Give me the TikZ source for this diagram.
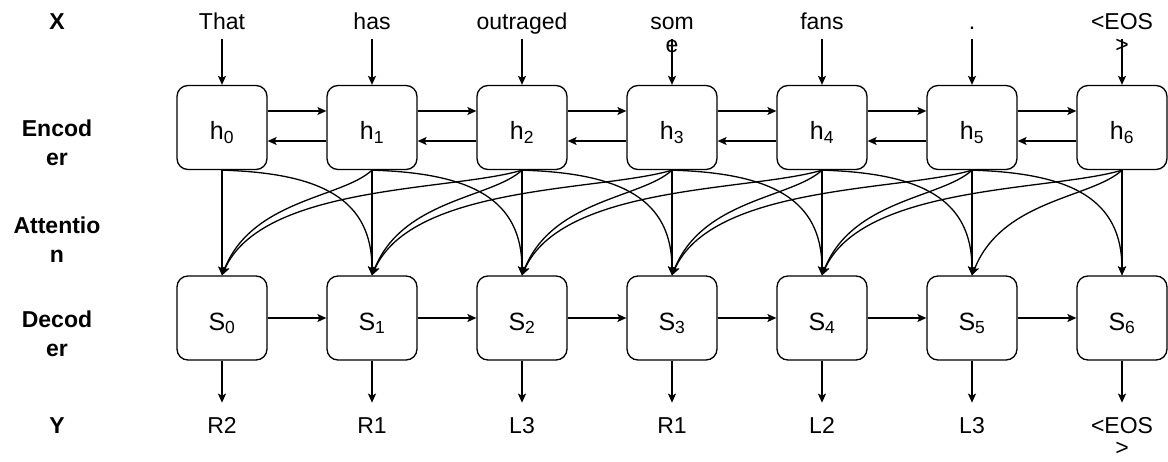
\documentclass[tikz,border=0pt]{standalone}
\usepackage{fontspec}
\setmainfont{Liberation Sans}
\usetikzlibrary{arrows.meta}
\newcommand{\tp}{\rule{0pt}{18pt}}

\begin{document}
\begin{tikzpicture}[x=1pt,y=-1pt,
	cell/.style={shape=rectangle,rounded corners=11pt,draw=black,line width=1.3pt,minimum width=90pt,minimum height=84pt,inner sep=0pt,text height=26pt,text depth=2pt,font=\fontsize{25}{28}\selectfont},
	word/.style={anchor=north,inner sep=0pt,align=center,font=\fontsize{23}{23}\selectfont},
	side/.style={anchor=north,inner sep=0pt,align=center,font=\fontsize{23}{29}\selectfont\bfseries},
	arr/.style={-{Stealth[length=9pt,width=8pt,inset=2pt]},line width=1.3pt,black}]
			\useasboundingbox (0,0) rectangle (1168,461);

			% row names
			\node[side] (lx) at (57,11) {\tp X};
			\node[side] (lenc) at (57,118) {\tp Encod\\er};
			\node[side] (latt) at (57,215) {\tp Attentio\\n};
			\node[side] (ldec) at (57,309) {\tp Decod\\er};
			\node[side] (ly) at (57,415) {\tp Y};

			% input words
			\node[word] (x0) at (222,11) {\tp That};
			\node[word] (x1) at (372,11) {\tp has};
			\node[word] (x2) at (522,11) {\tp outraged};
			\node[word] (x3) at (672,11) {\tp som\\e};
			\node[word] (x4) at (822,11) {\tp fans};
			\node[word] (x5) at (972,11) {\tp .};
			\node[word] (x6) at (1122,11) {\tp <EOS\\>};

			% encoder
			\node[cell] (h0) at (222,127.5) {h\textsubscript{0}};
			\node[cell] (h1) at (372,127.5) {h\textsubscript{1}};
			\node[cell] (h2) at (522,127.5) {h\textsubscript{2}};
			\node[cell] (h3) at (672,127.5) {h\textsubscript{3}};
			\node[cell] (h4) at (822,127.5) {h\textsubscript{4}};
			\node[cell] (h5) at (972,127.5) {h\textsubscript{5}};
			\node[cell] (h6) at (1122,127.5) {h\textsubscript{6}};

			% decoder
			\node[cell] (s0) at (222,318) {S\textsubscript{0}};
			\node[cell] (s1) at (372,318) {S\textsubscript{1}};
			\node[cell] (s2) at (522,318) {S\textsubscript{2}};
			\node[cell] (s3) at (672,318) {S\textsubscript{3}};
			\node[cell] (s4) at (822,318) {S\textsubscript{4}};
			\node[cell] (s5) at (972,318) {S\textsubscript{5}};
			\node[cell] (s6) at (1122,318) {S\textsubscript{6}};

			% output labels
			\node[word] (y0) at (222,415) {\tp R2};
			\node[word] (y1) at (372,415) {\tp R1};
			\node[word] (y2) at (522,415) {\tp L3};
			\node[word] (y3) at (672,415) {\tp R1};
			\node[word] (y4) at (822,415) {\tp L2};
			\node[word] (y5) at (972,415) {\tp L3};
			\node[word,font=\fontsize{23}{22}\selectfont] (y6) at (1122,415) {\tp <EOS\\>};

			% words into encoder
			\draw[arr] ([yshift=46pt]h0.north) -- (h0.north);
			\draw[arr] ([yshift=46pt]h1.north) -- (h1.north);
			\draw[arr] ([yshift=46pt]h2.north) -- (h2.north);
			\draw[arr] ([yshift=46pt]h3.north) -- (h3.north);
			\draw[arr] ([yshift=46pt]h4.north) -- (h4.north);
			\draw[arr] ([yshift=46pt]h5.north) -- (h5.north);
			\draw[arr] ([yshift=46pt]h6.north) -- (h6.north);

			% forward and backward states
			\draw[arr] ([yshift=16.5pt]h0.east) -- ([yshift=16.5pt]h1.west);
			\draw[arr] ([yshift=16.5pt]h1.east) -- ([yshift=16.5pt]h2.west);
			\draw[arr] ([yshift=16.5pt]h2.east) -- ([yshift=16.5pt]h3.west);
			\draw[arr] ([yshift=16.5pt]h3.east) -- ([yshift=16.5pt]h4.west);
			\draw[arr] ([yshift=16.5pt]h4.east) -- ([yshift=16.5pt]h5.west);
			\draw[arr] ([yshift=16.5pt]h5.east) -- ([yshift=16.5pt]h6.west);
			\draw[arr] ([yshift=-13.5pt]h1.west) -- ([yshift=-13.5pt]h0.east);
			\draw[arr] ([yshift=-13.5pt]h2.west) -- ([yshift=-13.5pt]h1.east);
			\draw[arr] ([yshift=-13.5pt]h3.west) -- ([yshift=-13.5pt]h2.east);
			\draw[arr] ([yshift=-13.5pt]h4.west) -- ([yshift=-13.5pt]h3.east);
			\draw[arr] ([yshift=-13.5pt]h5.west) -- ([yshift=-13.5pt]h4.east);
			\draw[arr] ([yshift=-13.5pt]h6.west) -- ([yshift=-13.5pt]h5.east);

			% attention, same step
			\draw[arr] (h0) -- (s0);
			\draw[arr] (h1) -- (s1);
			\draw[arr] (h2) -- (s2);
			\draw[arr] (h3) -- (s3);
			\draw[arr] (h4) -- (s4);
			\draw[arr] (h5) -- (s5);
			\draw[arr] (h6) -- (s6);

			% attention, one step back
			\draw[arr] (h0.south) .. controls +(100,3) and +(0,-76) .. (s1.north);
			\draw[arr] (h1.south) .. controls +(100,3) and +(0,-76) .. (s2.north);
			\draw[arr] (h2.south) .. controls +(100,3) and +(0,-76) .. (s3.north);
			\draw[arr] (h3.south) .. controls +(100,3) and +(0,-76) .. (s4.north);
			\draw[arr] (h4.south) .. controls +(100,3) and +(0,-76) .. (s5.north);
			\draw[arr] (h5.south) .. controls +(100,3) and +(0,-76) .. (s6.north);

			% attention, one step ahead
			\draw[arr] (h1.south) .. controls +(-30,28) and +(30,-76) .. (s0.north);
			\draw[arr] (h2.south) .. controls +(-30,28) and +(30,-76) .. (s1.north);
			\draw[arr] (h3.south) .. controls +(-30,28) and +(30,-76) .. (s2.north);
			\draw[arr] (h4.south) .. controls +(-30,28) and +(30,-76) .. (s3.north);
			\draw[arr] (h5.south) .. controls +(-30,28) and +(30,-76) .. (s4.north);
			\draw[arr] (h6.south) .. controls +(-30,28) and +(30,-76) .. (s5.north);

			% attention, two steps ahead
			\draw[arr] (h2.south) .. controls +(-70,21) and +(40,-91) .. (s0.north);
			\draw[arr] (h3.south) .. controls +(-70,21) and +(40,-91) .. (s1.north);
			\draw[arr] (h4.south) .. controls +(-70,21) and +(40,-91) .. (s2.north);
			\draw[arr] (h5.south) .. controls +(-70,21) and +(40,-91) .. (s3.north);
			\draw[arr] (h6.south) .. controls +(-70,21) and +(40,-91) .. (s4.north);

			% decoder chain
			\draw[arr] (s0) -- (s1);
			\draw[arr] (s1) -- (s2);
			\draw[arr] (s2) -- (s3);
			\draw[arr] (s3) -- (s4);
			\draw[arr] (s4) -- (s5);
			\draw[arr] (s5) -- (s6);

			% outputs
			\draw[arr] (s0.south) -- ([yshift=-42pt]s0.south);
			\draw[arr] (s1.south) -- ([yshift=-42pt]s1.south);
			\draw[arr] (s2.south) -- ([yshift=-42pt]s2.south);
			\draw[arr] (s3.south) -- ([yshift=-42pt]s3.south);
			\draw[arr] (s4.south) -- ([yshift=-42pt]s4.south);
			\draw[arr] (s5.south) -- ([yshift=-42pt]s5.south);
			\draw[arr] (s6.south) -- ([yshift=-42pt]s6.south);
		\end{tikzpicture}
\end{document}
